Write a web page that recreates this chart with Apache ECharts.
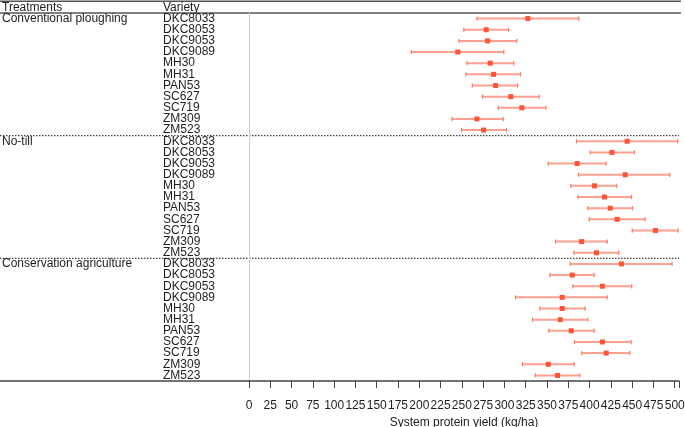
<!DOCTYPE html>
<html>
<head>
<meta charset="utf-8">
<script src="https://cdn.jsdelivr.net/npm/echarts@6/dist/echarts.min.js"></script>
<style>html,body{margin:0;padding:0;background:#fff}#c{width:685px;height:427px}</style>
</head>
<body>
<div id="c"></div>
<script>
const treatments = ['Conventional ploughing', 'No-till', 'Conservation agriculture'];
const varieties = ['DKC8033','DKC8053','DKC9053','DKC9089','MH30','MH31','PAN53','SC627','SC719','ZM309','ZM523'];
// mean, lower, upper per treatment (variety order as above)
const convMean = [327.5, 278.6, 280.2, 245.3, 283.3, 287.2, 289.6, 307.5, 320.4, 267.6, 275.5];
const convLow  = [267.6, 252.3, 246.5, 190.6, 255.9, 254.7, 262.2, 274.3, 292.7, 238.3, 249.6];
const convHigh = [387.3, 304.8, 314.6, 299.3, 311.0, 318.9, 315.4, 340.8, 348.6, 298.6, 302.5];
const ntMean = [444.1, 426.1, 385.4, 441.8, 405.8, 417.5, 424.2, 432.4, 477.3, 390.5, 408.1];
const ntLow  = [384.6, 400.7, 351.4, 387.0, 377.9, 386.2, 397.9, 399.5, 450.0, 360.0, 381.5];
const ntHigh = [503.5, 452.7, 419.5, 494.1, 431.9, 449.2, 450.4, 465.3, 504.0, 420.7, 434.3];
const caMean = [437.4, 379.6, 415.1, 367.8, 367.8, 365.5, 378.4, 415.1, 419.5, 351.4, 362.3];
const caLow  = [377.2, 353.3, 380.3, 313.0, 341.5, 333.0, 352.1, 382.3, 390.8, 321.2, 336.2];
const caHigh = [496.9, 405.4, 449.5, 420.7, 394.8, 397.9, 405.4, 448.8, 447.2, 381.9, 388.5];
const xTicks = {min: 0, max: 505, interval: 25};

const means = [convMean, ntMean, caMean];
const lows = [convLow, ntLow, caLow];
const highs = [convHigh, ntHigh, caHigh];

const cats = [];
const pointData = [];
const barData = [];
treatments.forEach((t, ti) => {
  varieties.forEach((v, vi) => {
    const idx = cats.length;
    cats.push(t + '|' + v);
    pointData.push([means[ti][vi], idx]);
    barData.push([lows[ti][vi], highs[ti][vi], idx]);
  });
});

const W = 685, H = 427;
const gridTop = 13, gridBottom = 46, gridLeft = 249, gridRight = 6;
const rowH = (H - gridTop - gridBottom) / cats.length;
const textColor = '#1e1e1e';
const font = 'Liberation Sans, Arial, sans-serif';

const chart = echarts.init(document.getElementById('c'), null, {renderer: 'canvas'});

const graphics = [
  {type: 'line', shape: {x1: 0, y1: 1.2, x2: 681, y2: 1.2}, style: {stroke: '#555', lineWidth: 1.6}},
  {type: 'line', shape: {x1: 0, y1: 13, x2: 681, y2: 13}, style: {stroke: '#555', lineWidth: 1.5}},
  {type: 'line', shape: {x1: 0, y1: H - gridBottom, x2: 250, y2: H - gridBottom}, style: {stroke: '#444', lineWidth: 1.5}},
  {type: 'text', x: 2, y: 2, style: {text: 'Treatments', fill: textColor, font: '12px ' + font}},
  {type: 'text', x: 163, y: 2, style: {text: 'Variety', fill: textColor, font: '12px ' + font}}
];
for (let g = 1; g < treatments.length; g++) {
  const y = gridTop + g * varieties.length * rowH;
  graphics.push({type: 'line', shape: {x1: 0, y1: y, x2: 679, y2: y},
    style: {stroke: '#444', lineWidth: 1.2, lineDash: [1.5, 1.5]}});
}

chart.setOption({
  animation: false,
  backgroundColor: '#fff',
  grid: {left: gridLeft, right: gridRight, top: gridTop, bottom: gridBottom, containLabel: false, outerBoundsMode: 'none'},
  xAxis: {
    type: 'value', min: xTicks.min, max: xTicks.max, interval: xTicks.interval,
    name: 'System protein yield (kg/ha)', nameLocation: 'middle', nameGap: 35,
    nameTextStyle: {color: textColor, fontSize: 12, fontFamily: font},
    axisLine: {show: true, onZero: false, lineStyle: {color: '#444', width: 1.5}},
    axisTick: {show: true, inside: false, length: 7, lineStyle: {color: '#444', width: 1}},
    axisLabel: {color: textColor, fontSize: 12, fontFamily: font, margin: 19,
      formatter: v => (v % 25 === 0 ? String(v) : '')},
    splitLine: {show: false}
  },
  yAxis: [
    {
      type: 'category', data: cats, inverse: true,
      axisLine: {show: true, lineStyle: {color: '#d0d0d0', width: 1}},
      axisTick: {show: false},
      axisLabel: {color: textColor, fontSize: 12, fontFamily: font, align: 'left', margin: 86,
        interval: 0, padding: [3, 0, 0, 0], formatter: v => v.split('|')[1]},
      splitLine: {show: false}
    },
    {
      type: 'category', data: cats, inverse: true, position: 'left',
      axisLine: {show: false}, axisTick: {show: false},
      axisLabel: {color: textColor, fontSize: 12, fontFamily: font, align: 'left', margin: 247,
        interval: 0, padding: [3, 0, 0, 0],
        formatter: (v, i) => (i % varieties.length === 0 ? v.split('|')[0] : '')},
      splitLine: {show: false}
    }
  ],
  series: [
    {
      type: 'custom',
      data: barData,
      encode: {x: [0, 1], y: 2},
      renderItem: (params, api) => {
        const yi = api.value(2);
        const p1 = api.coord([api.value(0), yi]);
        const p2 = api.coord([api.value(1), yi]);
        const cap = 2.2;
        const style = {stroke: 'rgba(255,99,71,0.6)', lineWidth: 2};
        const capStyle = {stroke: 'rgba(255,99,71,0.8)', lineWidth: 1.2};
        return {
          type: 'group',
          children: [
            {type: 'line', shape: {x1: p1[0], y1: p1[1], x2: p2[0], y2: p2[1]}, style},
            {type: 'line', shape: {x1: p1[0], y1: p1[1] - cap, x2: p1[0], y2: p1[1] + cap}, style: capStyle},
            {type: 'line', shape: {x1: p2[0], y1: p2[1] - cap, x2: p2[0], y2: p2[1] + cap}, style: capStyle}
          ]
        };
      },
      z: 2
    },
    {
      type: 'scatter',
      data: pointData,
      symbol: 'rect',
      symbolSize: 5,
      itemStyle: {color: '#ff5436', opacity: 1},
      z: 3
    }
  ],
  graphic: graphics
});
</script>
</body>
</html>
